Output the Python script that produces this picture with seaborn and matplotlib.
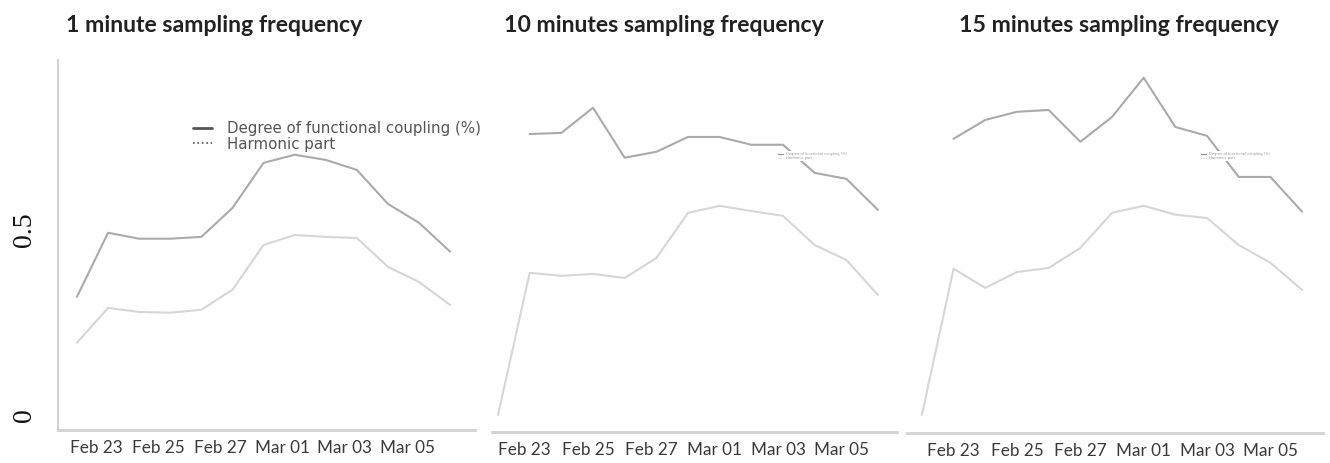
import pandas as pd
import seaborn as sns
import matplotlib.pyplot as plt
from matplotlib.lines import Line2D
from matplotlib.transforms import ScaledTranslation

sns.set_style("white")

# Data
dates = ["2021-02-22", "2021-02-23", "2021-02-24", "2021-02-25", "2021-02-26",
         "2021-02-27", "2021-02-28", "2021-03-01", "2021-03-02", "2021-03-03",
         "2021-03-04", "2021-03-05", "2021-03-06"]
tick_dates = ["2021-02-23", "2021-02-25", "2021-02-27", "2021-03-01", "2021-03-03", "2021-03-05"]
tick_labels = ["Feb 23", "Feb 25", "Feb 27", "Mar 01", "Mar 03", "Mar 05"]

titles = ["1 minute sampling frequency", "10 minutes sampling frequency", "15 minutes sampling frequency"]

coupling_1min = [0.319, 0.492, 0.476, 0.476, 0.481, 0.559, 0.681, 0.703, 0.689, 0.662, 0.570, 0.519, 0.441]
harmonic_1min = [0.195, 0.289, 0.278, 0.276, 0.284, 0.338, 0.459, 0.486, 0.481, 0.478, 0.400, 0.359, 0.297]

coupling_10min = [None, 0.759, 0.762, 0.830, 0.695, 0.711, 0.751, 0.751, 0.730, 0.730, 0.654, 0.638, 0.554]
harmonic_10min = [0.000, 0.384, 0.376, 0.381, 0.370, 0.424, 0.546, 0.565, 0.551, 0.538, 0.459, 0.419, 0.324]

coupling_15min = [None, 0.746, 0.797, 0.819, 0.824, 0.738, 0.805, 0.911, 0.778, 0.754, 0.643, 0.643, 0.549]
harmonic_15min = [0.000, 0.395, 0.343, 0.386, 0.397, 0.451, 0.546, 0.565, 0.541, 0.532, 0.459, 0.411, 0.338]

legend_labels = ["Degree of functional coupling (%)", "Harmonic part"]

W, H = 1330, 463
fig = plt.figure(figsize=(W / 100, H / 100), dpi=100)


def px_axes(l, t, r, b):
    ax = fig.add_axes([l / W, 1 - b / H, (r - l) / W, (b - t) / H])
    ax.set_facecolor("none")
    return ax


# axes boxes in pixels, x limits in days from the first date, label shift in px, title x
panels = [
    (px_axes(58, 60, 475, 430), coupling_1min, harmonic_1min, (-0.61, 12.8), -0.041, -12, 66),
    (px_axes(492, 60, 897, 432), coupling_10min, harmonic_10min, (-0.19, 12.6), -0.046, -5, 504),
    (px_axes(907, 60, 1323, 433), coupling_15min, harmonic_15min, (-0.47, 12.66), -0.049, 0, 959),
]

t0 = pd.Timestamp(dates[0])
spine_col = "#d2d2d2"

for i, (ax, top, low, xl, ybot, shift, tx) in enumerate(panels):
    df = pd.DataFrame({"date": pd.to_datetime(dates), "coupling": top, "harmonic": low})
    sns.lineplot(data=df, x="date", y="harmonic", ax=ax, color="#d6d6d6", linewidth=1.5)
    sns.lineplot(data=df, x="date", y="coupling", ax=ax, color="#aaaaaa", linewidth=1.5)

    ax.set_xlim(t0 + pd.Timedelta(days=xl[0]), t0 + pd.Timedelta(days=xl[1]))
    ax.set_ylim(ybot, 0.959)
    ax.set_xlabel("")
    ax.set_ylabel("")

    ax.set_xticks(pd.to_datetime(tick_dates))
    ax.set_xticklabels(tick_labels, fontfamily="Lato", fontsize=12.3, color="#3a3a3a")
    ax.tick_params(axis="x", length=0, pad=7)
    for lab in ax.get_xticklabels():
        lab.set_transform(lab.get_transform() + ScaledTranslation(shift / 100, 0, fig.dpi_scale_trans))

    for s in ["top", "right"]:
        ax.spines[s].set_visible(False)
    ax.spines["bottom"].set_color(spine_col)
    ax.spines["bottom"].set_linewidth(2)

    if i == 0:
        ax.spines["left"].set_color(spine_col)
        ax.spines["left"].set_linewidth(1.5)
        ax.set_yticks([0, 0.5])
        ax.set_yticklabels(["0", "0.5"], rotation=90, va="center",
                           fontfamily="Liberation Serif", fontsize=20, color="#111111")
        ax.tick_params(axis="y", length=0, pad=15)
    else:
        ax.spines["left"].set_visible(False)
        ax.set_yticks([])

    fig.text(tx / W, 1 - 25 / H, titles[i], ha="left", va="center",
             fontfamily="Lato", fontweight="bold", fontsize=16.6, color="#222222")

handles = [Line2D([], [], color="#555555", linewidth=2, linestyle="-"),
           Line2D([], [], color="#555555", linewidth=1.2, linestyle=":")]

# full-size legend in the first panel
panels[0][0].legend(handles, legend_labels, loc="upper left",
                    bbox_to_anchor=(186 / W, 1 - 114 / H), bbox_transform=fig.transFigure,
                    frameon=False, fontsize=10.8, labelspacing=0.0, handlelength=1.25,
                    handletextpad=1.0, borderpad=0, labelcolor="#555555")

# shrunken legends in the other two panels
small_handles = [Line2D([], [], color="#999999", linewidth=1, linestyle="-"),
                 Line2D([], [], color="#aaaaaa", linewidth=0.6, linestyle=":")]
for ax, lx in [(panels[1][0], 775), (panels[2][0], 1198)]:
    leg = ax.legend(small_handles, legend_labels, loc="upper left",
                    bbox_to_anchor=(lx / W, 1 - 149 / H), bbox_transform=fig.transFigure,
                    frameon=True, fontsize=2.6, labelspacing=0.0, handlelength=1.5,
                    handletextpad=0.8, borderpad=0.3, labelcolor="#999999")
    leg.get_frame().set_facecolor("white")
    leg.get_frame().set_edgecolor("none")
    leg.get_frame().set_alpha(1)

fig.savefig("out.png", dpi=100)
